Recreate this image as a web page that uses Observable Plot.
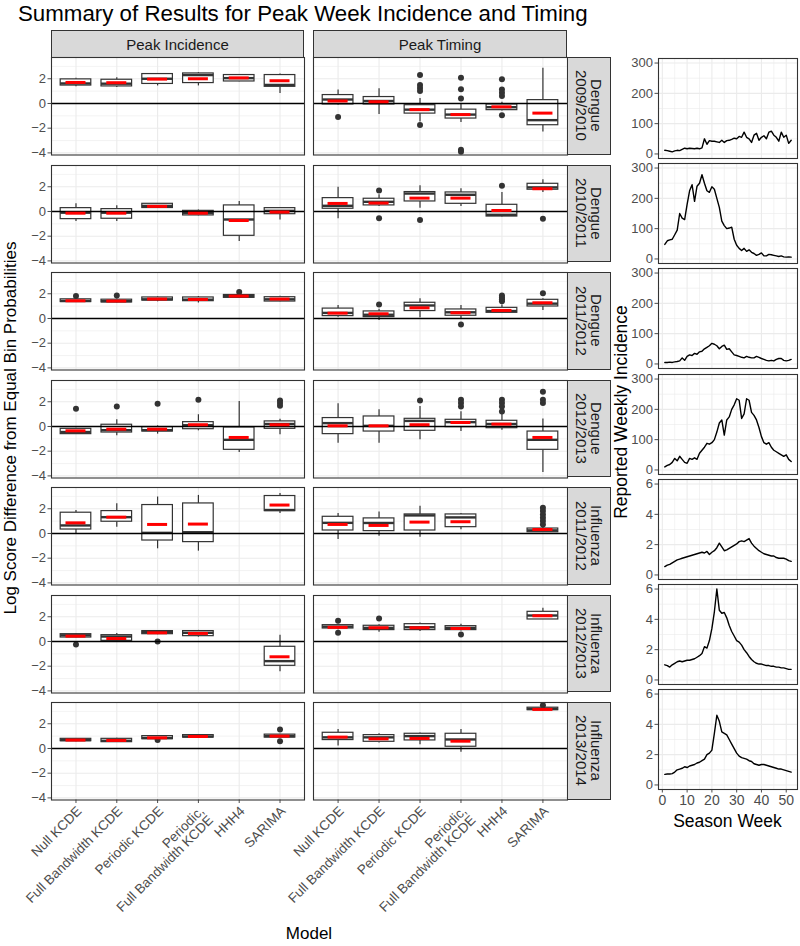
<!DOCTYPE html>
<html><head><meta charset="utf-8">
<script src="https://cdn.jsdelivr.net/npm/d3@7"></script>
<script src="https://cdn.jsdelivr.net/npm/@observablehq/plot@0.6"></script>
<style>
body{margin:0;background:#fff;}
#chart{position:relative;width:800px;height:946px;overflow:hidden;font-family:"Liberation Sans",Arial,sans-serif;background:#fff;color:#000;}
.strip{position:absolute;box-sizing:border-box;background:#D9D9D9;border:1px solid #333;display:flex;align-items:center;justify-content:center;color:#1A1A1A;font-size:15px;}
.vtext{writing-mode:vertical-rl;white-space:pre;text-align:center;line-height:1.0;}
.lab{position:absolute;white-space:nowrap;transform:translate(-50%,-50%);}
svg{overflow:visible}
</style></head>
<body><div id="chart"></div>
<script>
// ---------------- data ----------------
const models = ["Null KCDE", "Full Bandwidth KCDE", "Periodic KCDE", "Periodic,\nFull Bandwidth KCDE", "HHH4", "SARIMA"];
const panels = ["Peak Incidence", "Peak Timing"];
const seasons = ["Dengue\n2009/2010", "Dengue\n2010/2011", "Dengue\n2011/2012", "Dengue\n2012/2013", "Influenza\n2011/2012", "Influenza\n2012/2013", "Influenza\n2013/2014"];

// each entry: [lower whisker, q1, median, q3, upper whisker, mean, outliers]
const inc_d0910 = [[1.35,1.45,1.62,1.95,2.05,1.70,[]],[1.30,1.38,1.60,1.92,2.08,1.68,[]],[1.42,1.58,2.00,2.38,2.42,1.97,[]],[1.42,1.65,2.30,2.43,2.50,2.00,[]],[1.75,1.78,2.05,2.30,2.35,2.07,[]],[0.80,1.35,1.50,2.30,2.38,1.84,[]]];
const tim_d0910 = [[-0.15,-0.08,0.32,0.68,1.08,0.20,[-1.10]],[-0.90,-0.08,0.20,0.52,1.20,0.14,[]],[-1.50,-0.82,-0.50,-0.14,0.40,-0.50,[2.30,1.50,1.25,1.00,-1.75]],[-1.55,-1.22,-0.90,-0.50,0.00,-0.90,[2.08,1.16,0.40,-3.75,-3.90]],[-0.60,-0.54,-0.30,-0.08,0.10,-0.27,[1.97,1.13,0.86,0.60,-0.95]],[-2.30,-1.76,-1.35,0.27,2.84,-0.78,[]]];
const inc_d1011 = [[-0.81,-0.62,-0.10,0.27,0.62,-0.14,[]],[-0.81,-0.59,-0.10,0.19,0.46,-0.14,[]],[0.27,0.28,0.45,0.62,0.63,0.41,[]],[-0.35,-0.32,-0.12,0.05,0.12,-0.14,[]],[-2.43,-1.97,-0.65,0.49,0.81,-0.73,[]],[-0.70,-0.22,0.05,0.27,0.30,-0.05,[]]];
const tim_d1011 = [[-0.59,0.22,0.46,1.08,1.95,0.65,[]],[0.40,0.49,0.78,1.03,1.35,0.68,[1.70,-0.54]],[0.27,0.81,1.45,1.57,2.08,1.08,[-0.70]],[0.40,0.62,1.35,1.54,1.84,1.08,[]],[-0.45,-0.41,-0.27,0.54,1.54,0.08,[2.08]],[1.54,1.76,1.95,2.24,2.57,1.84,[-0.59]]];
const inc_d1112 = [[1.30,1.33,1.42,1.55,1.60,1.43,[1.81]],[1.27,1.30,1.40,1.52,1.58,1.41,[1.86]],[1.35,1.45,1.55,1.70,1.75,1.57,[]],[1.25,1.40,1.52,1.70,1.78,1.54,[]],[1.65,1.67,1.80,1.90,1.95,1.81,[2.14]],[1.35,1.37,1.55,1.72,1.80,1.57,[]]];
const tim_d1112 = [[0.10,0.19,0.45,0.80,1.05,0.43,[]],[-0.16,0.11,0.30,0.57,0.75,0.38,[1.14]],[0.05,0.60,1.05,1.27,1.60,0.86,[]],[0.00,0.22,0.50,0.73,1.05,0.46,[-0.49]],[0.45,0.46,0.60,0.86,1.10,0.65,[1.86,1.70,1.55,1.40]],[0.65,0.97,1.20,1.51,1.60,1.27,[2.05]]];
const inc_d1213 = [[-0.65,-0.62,-0.45,-0.19,-0.15,-0.35,[1.43]],[-0.76,-0.49,-0.30,0.14,0.54,-0.22,[1.62]],[-0.62,-0.41,-0.30,-0.05,0.05,-0.22,[1.84]],[-0.35,-0.22,0.10,0.35,0.95,0.14,[2.16]],[-2.10,-1.89,-1.08,-0.08,2.03,-0.89,[]],[-0.68,-0.19,0.20,0.41,0.59,0.14,[2.10,1.89,1.68]]];
const tim_d1213 = [[-1.35,-0.62,0.27,0.68,1.84,0.05,[]],[-1.35,-0.41,0.05,0.81,1.35,0.05,[]],[-1.08,-0.35,0.45,0.62,1.62,0.14,[2.10]],[-0.40,-0.05,0.35,0.54,1.20,0.32,[2.16,1.89,1.62]],[-0.30,-0.14,0.20,0.46,1.00,0.19,[2.16,1.89,1.62,1.22]],[-3.73,-1.89,-1.08,-0.41,0.60,-0.89,[2.80,2.16,1.89]]];
const inc_f1112 = [[-0.08,0.32,0.65,1.68,1.86,0.86,[]],[0.51,0.95,1.32,1.81,2.40,1.32,[]],[-1.24,-0.57,0.05,2.30,2.95,0.73,[]],[-1.43,-0.70,0.10,2.43,3.08,0.76,[]],null,[1.62,1.81,1.90,3.03,3.24,2.30,[]]];
const tim_f1112 = [[-0.49,0.24,0.86,1.35,1.62,0.73,[]],[-0.22,0.19,0.85,1.22,1.73,0.65,[]],[-0.30,0.24,1.46,1.54,2.20,0.92,[]],[0.30,0.51,1.30,1.54,1.62,0.95,[]],null,[0.10,0.10,0.25,0.40,0.60,0.32,[2.08,1.81,1.54,1.27,1.00,0.73]]];
const inc_f1213 = [[0.30,0.32,0.50,0.59,0.65,0.43,[-0.24]],[0.00,0.05,0.40,0.51,0.65,0.24,[]],[0.55,0.59,0.75,0.84,0.88,0.70,[0.00]],[0.35,0.43,0.70,0.84,0.90,0.65,[]],null,[-2.46,-1.97,-1.59,-0.43,0.51,-1.24,[]]];
const tim_f1213 = [[0.95,1.05,1.20,1.32,1.40,1.14,[1.68,0.70]],[0.75,0.92,1.10,1.27,1.35,1.11,[1.86]],[0.80,0.92,1.15,1.40,1.50,1.11,[]],[0.85,0.92,1.10,1.24,1.40,1.05,[0.57]],null,[1.78,1.78,2.10,2.40,2.68,2.08,[]]];
const inc_f1314 = [[0.55,0.59,0.68,0.78,0.80,0.68,[]],[0.48,0.51,0.62,0.78,0.82,0.65,[]],[0.73,0.75,0.85,1.00,1.02,0.86,[0.68]],[0.86,0.88,0.97,1.08,1.10,0.97,[]],null,[0.86,0.88,1.00,1.12,1.15,1.00,[1.54,0.59]]];
const tim_f1314 = [[0.19,0.68,0.90,1.27,1.54,0.92,[]],[0.45,0.54,0.90,1.08,1.20,0.78,[]],[0.30,0.65,1.00,1.19,1.25,0.81,[]],[-0.30,0.14,0.73,1.19,1.54,0.59,[]],null,[3.08,3.10,3.20,3.30,3.35,3.16,[3.49]]];

const incidenceRows = [inc_d0910, inc_d1011, inc_d1112, inc_d1213, inc_f1112, inc_f1213, inc_f1314];
const timingRows = [tim_d0910, tim_d1011, tim_d1112, tim_d1213, tim_f1112, tim_f1213, tim_f1314];

const yTicks = [-4, -2, 0, 2];
const yMinor = [-3, -1, 1, 3];

// weekly incidence, weeks 1..52
const ts_d0910 = [12,11,9,7,10,12,11,15,19,17,19,18,17,19,17,20,50,32,44,42,42,40,38,45,38,44,45,48,52,50,58,55,72,55,50,38,62,68,45,55,60,50,72,75,62,55,42,72,55,62,35,45];
const ts_d1011 = [48,60,63,65,80,95,150,135,130,180,225,245,190,240,250,278,250,225,220,238,230,200,170,125,110,100,102,105,65,45,35,28,35,25,30,22,18,12,15,20,10,10,15,14,12,10,8,10,7,6,7,6];
const ts_d1112 = [5,5,6,5,7,8,10,20,12,25,30,28,35,32,40,42,50,55,60,68,65,60,50,58,62,48,50,40,30,28,25,22,20,25,22,20,20,25,22,18,15,12,10,12,10,15,18,18,12,10,12,15];
const ts_d1213 = [10,15,18,25,38,30,45,35,25,22,38,35,40,35,55,65,75,88,85,90,100,125,155,165,115,165,175,200,215,235,230,170,185,235,230,190,180,165,140,110,90,85,90,75,65,60,55,50,45,50,35,28];
const ts_f1112 = [0.55,0.65,0.7,0.8,0.9,1.0,1.05,1.1,1.15,1.2,1.25,1.3,1.35,1.4,1.45,1.5,1.45,1.55,1.35,1.5,1.6,1.8,2.1,1.85,1.6,1.65,1.75,1.85,1.95,2.05,2.2,2.25,2.2,2.3,2.4,2.1,1.9,1.75,1.6,1.5,1.4,1.35,1.3,1.25,1.25,1.15,1.1,1.1,1.1,1.05,0.95,0.9];
const ts_f1213 = [1.0,0.95,0.85,1.0,1.1,1.2,1.25,1.2,1.25,1.3,1.3,1.35,1.4,1.5,1.6,1.75,2.2,2.1,2.6,3.4,4.5,6.0,4.6,4.4,4.45,4.1,3.6,3.2,2.9,2.6,2.5,2.3,2.0,1.8,1.55,1.35,1.2,1.1,1.05,1.05,1.0,0.95,0.95,0.9,0.9,0.85,0.85,0.8,0.8,0.75,0.7,0.7];
const ts_f1314 = [0.7,0.72,0.72,0.75,0.85,1.0,1.05,1.1,1.2,1.15,1.25,1.3,1.35,1.45,1.5,1.6,1.7,2.0,2.1,2.3,3.4,4.6,4.2,3.5,3.4,3.3,3.0,2.7,2.4,2.1,1.9,1.8,1.75,1.7,1.6,1.55,1.4,1.35,1.3,1.35,1.35,1.3,1.25,1.2,1.15,1.1,1.05,1.05,1.0,0.95,0.9,0.85];
const tsSeries = [ts_d0910, ts_d1011, ts_d1112, ts_d1213, ts_f1112, ts_f1213, ts_f1314];
const tsIsFlu = [false, false, false, false, true, true, true];
const weekTicks = [0, 10, 20, 30, 40, 50];
const weekMinor = [5, 15, 25, 35, 45];
const dengueTicks = [0, 100, 200, 300], dengueMinor = [50, 150, 250];
const fluTicks = [0, 2, 4, 6], fluMinor = [1, 3, 5];

// ---------------- layout ----------------
const FONT = '"Liberation Sans", Arial, sans-serif';
const chart = document.getElementById("chart");
function place(el, left, top) {
  el.style.position = "absolute"; el.style.left = left + "px"; el.style.top = top + "px";
  chart.appendChild(el); return el;
}
function div(cls, text, css) {
  const d = document.createElement("div"); if (cls) d.className = cls;
  if (text != null) d.textContent = text; Object.assign(d.style, css || {}); return d;
}

const PT0 = 57, PITCH = 107.5, PH = 97.5;
const COLX = [51, 313], COLW = [253, 254];
const STRIP_X = 567, STRIP_W = 44;
const YDOM = [-4.17, 3.72];
const GRID = "#EBEBEB";

function boxPanel(arr, W, ML, bottom) {
  const rows = arr.map((v, k) => v && {i: k + 1, lo: v[0], q1: v[1], med: v[2], q3: v[3], hi: v[4], mean: v[5], out: v[6]}).filter(Boolean);
  const outs = rows.flatMap(r => r.out.map(y => ({i: r.i, y})));
  const MB = bottom ? 140 : 0;
  const idx = models.map((m, k) => k + 1);
  return Plot.plot({
    width: W + ML, height: PH + MB,
    marginLeft: ML, marginRight: 0, marginTop: 0, marginBottom: MB,
    style: {fontFamily: FONT, background: "transparent", overflow: "visible"},
    x: {domain: [0.4, 6.6], axis: null, label: null},
    y: {domain: YDOM, axis: null, label: null},
    marks: [
      Plot.gridY(yMinor, {stroke: GRID, strokeOpacity: 1, strokeWidth: 0.6}),
      Plot.gridY(yTicks, {stroke: GRID, strokeOpacity: 1, strokeWidth: 1.1}),
      Plot.gridX(idx, {stroke: GRID, strokeOpacity: 1, strokeWidth: 1.1}),
      ML ? Plot.axisY({ticks: yTicks, tickSize: 3.5, tickPadding: 2, fontSize: 13, color: "#4D4D4D", label: null}) : null,
      bottom ? Plot.axisX({ticks: idx, tickFormat: i => models[i - 1], tickRotate: -45, textAnchor: "end", lineAnchor: "top",
        tickSize: 3.5, tickPadding: 2, fontSize: 13.5, color: "#4D4D4D", label: null, lineHeight: 0.95}) : null,
      Plot.ruleX(rows, {x: "i", y1: "q3", y2: "hi", stroke: "#333", strokeWidth: 1.2}),
      Plot.ruleX(rows, {x: "i", y1: "lo", y2: "q1", stroke: "#333", strokeWidth: 1.2}),
      Plot.rect(rows, {x1: d => d.i - 0.375, x2: d => d.i + 0.375, y1: "q1", y2: "q3", fill: "white", stroke: "#333", strokeWidth: 1.2}),
      Plot.ruleY(rows, {y: "med", x1: d => d.i - 0.375, x2: d => d.i + 0.375, stroke: "#333", strokeWidth: 2.4}),
      Plot.dot(outs, {x: "i", y: "y", r: 3, fill: "#333", stroke: null}),
      Plot.ruleY([0], {stroke: "black", strokeWidth: 1.6}),
      Plot.ruleY(rows, {y: "mean", x1: d => d.i - 0.245, x2: d => d.i + 0.245, stroke: "red", strokeWidth: 3}),
      Plot.frame({stroke: "#333", strokeWidth: 1.1})
    ]
  });
}

// title
place(div(null, "Summary of Results for Peak Week Incidence and Timing", {fontSize: "22.3px", lineHeight: "23px", whiteSpace: "nowrap"}), 18, 2);

// column strips
panels.forEach((p, c) => {
  const s = div("strip", p, {width: COLW[c] + "px", height: "28px"});
  place(s, COLX[c], 30);
});

// facet grid
seasons.forEach((s, r) => {
  const top = PT0 + r * PITCH;
  [incidenceRows[r], timingRows[r]].forEach((arr, c) => {
    const ML = c === 0 ? 40 : 0;
    const svg = boxPanel(arr, COLW[c], ML, r === seasons.length - 1);
    place(svg, COLX[c] - ML, top);
  });
  const st = div("strip", null, {width: STRIP_W + "px", height: PH + "px"});
  const sp = div("vtext", s); st.appendChild(sp);
  place(st, STRIP_X, top);
});

// axis titles of the grid
place(div("lab", "Log Score Difference from Equal Bin Probabilities", {fontSize: "17px", transform: "translate(-50%,-50%) rotate(-90deg)"}), 11, 428);
place(div("lab", "Model", {fontSize: "17px"}), 309, 934);

// time series column
const TX = 658, TW = 139, TT0 = 58, TPITCH = 105.2, TH = 100, TML = 40;
tsSeries.forEach((vals, r) => {
  const data = vals.map((v, k) => ({week: k + 1, v}));
  const flu = tsIsFlu[r];
  const bottom = r === tsSeries.length - 1;
  const svg = Plot.plot({
    width: TW + TML, height: TH + (bottom ? 30 : 0),
    marginLeft: TML, marginRight: 0, marginTop: 0, marginBottom: bottom ? 30 : 0,
    style: {fontFamily: FONT, background: "transparent", overflow: "visible"},
    x: {domain: [-1.55, 54.55], axis: null, label: null},
    y: {domain: flu ? [-0.3, 6.3] : [-15, 315], axis: null, label: null},
    marks: [
      Plot.gridX(weekMinor, {stroke: GRID, strokeOpacity: 1, strokeWidth: 0.6}),
      Plot.gridY(flu ? fluMinor : dengueMinor, {stroke: GRID, strokeOpacity: 1, strokeWidth: 0.6}),
      Plot.gridX(weekTicks, {stroke: GRID, strokeOpacity: 1, strokeWidth: 1.1}),
      Plot.gridY(flu ? fluTicks : dengueTicks, {stroke: GRID, strokeOpacity: 1, strokeWidth: 1.1}),
      Plot.axisY({ticks: flu ? fluTicks : dengueTicks, tickFormat: d => String(d), tickSize: 3.5, tickPadding: 2, fontSize: 13, color: "#4D4D4D", label: null}),
      bottom ? Plot.axisX({ticks: weekTicks, tickFormat: d => String(d), tickSize: 3.5, tickPadding: 2, fontSize: 14, color: "#4D4D4D", label: null}) : null,
      Plot.line(data, {x: "week", y: "v", stroke: "black", strokeWidth: 1.4}),
      Plot.frame({stroke: "#333", strokeWidth: 1.1})
    ]
  });
  place(svg, TX - TML, TT0 + r * TPITCH);
});
place(div("lab", "Reported Weekly Incidence", {fontSize: "17.5px", transform: "translate(-50%,-50%) rotate(-90deg)"}), 621, 412);
place(div("lab", "Season Week", {fontSize: "17.5px"}), TX + TW / 2, 821);
</script></body></html>
